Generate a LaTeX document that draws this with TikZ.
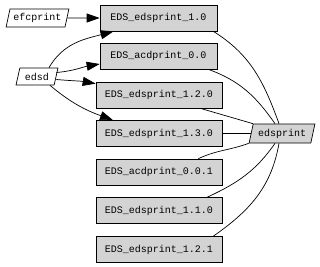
\documentclass[tikz,border=0pt]{standalone}
\usepackage{fontspec}
\setmonofont{Liberation Mono}
\usetikzlibrary{shapes.geometric,arrows.meta}
\definecolor{boxgray}{RGB}{211,211,211}
\begin{document}
\begin{tikzpicture}[x=1pt,y=1pt,line width=0.7pt,
  lbl/.style={font=\ttfamily\fontsize{10}{12}\selectfont},
  box/.style={lbl,draw,fill=boxgray,minimum height=26pt,inner sep=0pt},
  para/.style={lbl,draw,trapezium,trapezium left angle=70,trapezium right angle=110,
    trapezium stretches=true,inner sep=0pt},
  arr/.style={-{Triangle[length=13pt,width=9pt]}}]
\useasboundingbox (0,0) rectangle (320,-266);
\node[para,fill=white,minimum width=63pt,minimum height=18pt] (efc) at (37.5,-18) {efcprint};
\node[para,fill=white,minimum width=42pt,minimum height=17pt] (edsd) at (37,-76.5) {edsd};
\node[para,fill=boxgray,minimum width=66pt,minimum height=19pt] (eds) at (282,-133.5) {edsprint};
\node[box,minimum width=117pt] (b1) at (158.5,-18) {EDS\_edsprint\_1.0};
\node[box,minimum width=117pt] (b2) at (158.5,-56) {EDS\_acdprint\_0.0};
\node[box,minimum width=126pt] (b3) at (159,-95) {EDS\_edsprint\_1.2.0};
\node[box,minimum width=126pt] (b4) at (159,-133.5) {EDS\_edsprint\_1.3.0};
\node[box,minimum width=126pt] (b5) at (159,-172) {EDS\_acdprint\_0.0.1};
\node[box,minimum width=126pt] (b6) at (159,-210.5) {EDS\_edsprint\_1.1.0};
\node[box,minimum width=126pt] (b7) at (159,-249.5) {EDS\_edsprint\_1.2.1};
% arrows
\draw[arr] (efc) -- (b1);
\draw[arr] ([xshift=12pt]edsd.north) to[out=60,in=195] ([xshift=-45pt]b1.south);
\draw[arr] ([yshift=4pt]edsd.east) to[out=5,in=190] ([yshift=-8pt]b2.west);
\draw[arr] ([yshift=-3pt]edsd.east) to[out=-5,in=170] ([yshift=-2pt]b3.north west);
\draw[arr] ([xshift=13pt]edsd.south) to[out=-40,in=160] ([xshift=-46pt]b4.north);
% lines to edsprint
\draw ([xshift=-4pt]b1.south east) to[out=-32,in=110] ([xshift=-3pt]eds.north);
\draw ([xshift=-9pt]b2.south east) to[out=-20,in=125] ([xshift=-7pt]eds.north);
\draw ([xshift=-22pt]b3.south east) -- (eds.top left corner);
\draw (b4.east) -- (eds.west);
\draw ([xshift=-24pt]b5.north east) to[out=25,in=-160] (eds.bottom left corner);
\draw ([xshift=-15pt]b6.north east) to[out=25,in=-125] ([xshift=-7pt]eds.south);
\draw ([xshift=-9pt]b7.north east) to[out=35,in=-100] ([xshift=-3pt]eds.south);
\end{tikzpicture}
\end{document}
